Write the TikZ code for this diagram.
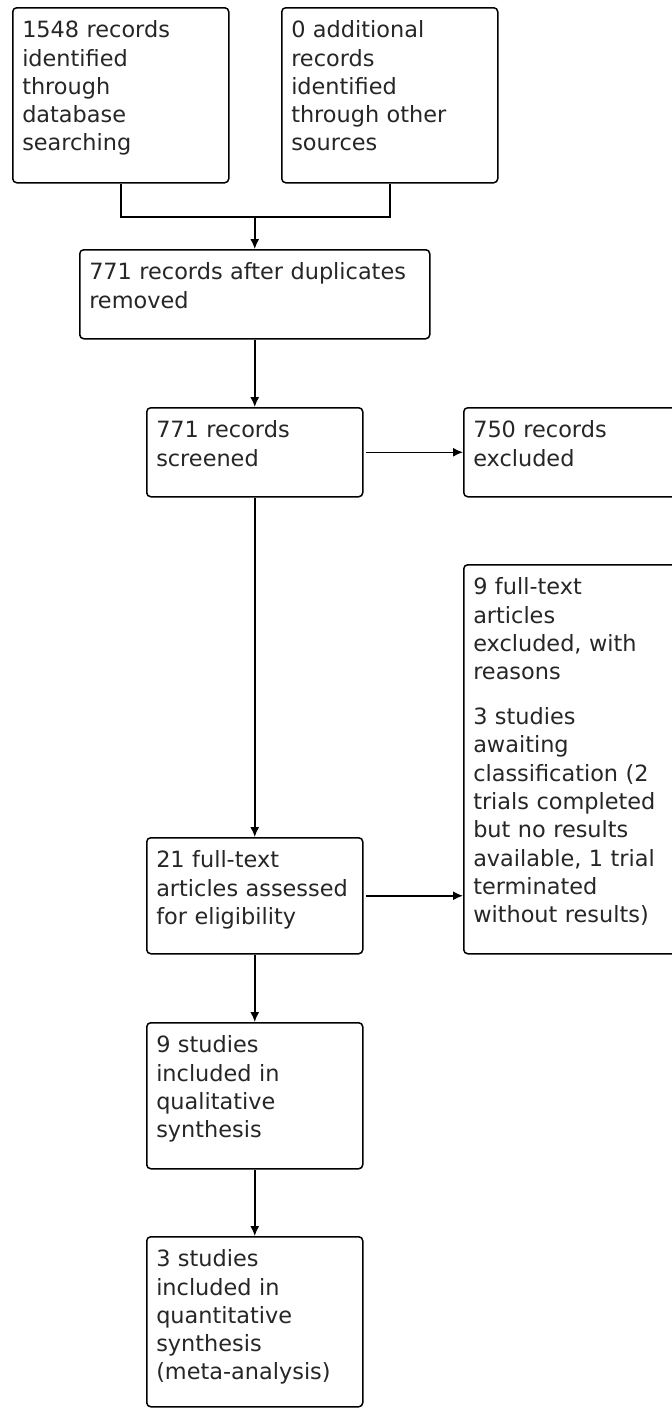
\documentclass[tikz,border=0pt]{standalone}
\usepackage{fontspec}
\setmainfont{DejaVu Sans}
\usetikzlibrary{arrows.meta}

\begin{document}
\begin{tikzpicture}[x=0.5pt, y=-0.5pt,
        recbox/.style={draw, line width=0.75pt, rounded corners=2pt, anchor=north west,
            align=left, inner xsep=4.75pt, inner ysep=0pt, text height=15pt,
            text=black!85, font=\fontsize{11.2}{14.15}\selectfont},
        flow/.style={->, line width=0.75pt, >={Latex[length=5pt, width=4.5pt]}},
        link/.style={line width=0.75pt}]
            \useasboundingbox (0, 0) rectangle (672, 1408);
            \clip (0, 0) rectangle (672, 1408);

            % identification
            \node[recbox, text width=98.5pt, text depth=72.5pt] (search) at (12, 7)
                {1548 records\\identified\\through\\database\\searching};
            \node[recbox, text width=98.5pt, text depth=72.5pt] (other) at (281, 7)
                {0 additional\\records\\identified\\through other\\sources};

            \node[recbox, text width=165.5pt, text depth=29.5pt] (dedup) at (79, 249)
                {771 records after duplicates\\removed};
            \coordinate (merge) at (dedup.north |- 0, 217);
            \draw[link] (search.south) |- (merge) -| (other.south);
            \draw[flow] (merge) -- (dedup.north);

            % screening
            \node[recbox, text width=98.5pt, text depth=29.5pt] (screened) at (146, 407)
                {771 records\\screened};
            \node[recbox, text width=100pt, text depth=29.5pt] (excluded) at (463, 407)
                {750 records\\excluded};
            \draw[flow] (dedup.south) -- (screened.north);
            \draw[flow, shorten <=1pt] (screened.east) -- (excluded.west);

            % eligibility
            \node[recbox, text width=100pt, text depth=179.5pt] (reasons) at (463, 564)
                {9 full-text\\articles\\excluded, with\\reasons\\[8.3pt]
                 3 studies\\awaiting\\classification (2\\trials completed\\but no results\\available, 1 trial\\terminated\\without results)};
            \node[recbox, text width=98.5pt, text depth=43pt] (fulltext) at (146, 837)
                {21 full-text\\articles assessed\\for eligibility};
            \draw[flow] (screened.south) -- (fulltext.north);
            \draw[flow, shorten <=1pt] (fulltext.east) -- (fulltext.east -| reasons.west);

            % included
            \node[recbox, text width=98.5pt, text depth=58pt] (quali) at (146, 1022)
                {9 studies\\included in\\qualitative\\synthesis};
            \node[recbox, text width=98.5pt, text depth=70pt] (quanti) at (146, 1236)
                {3 studies\\included in\\quantitative\\synthesis\\(meta-analysis)};
            \draw[flow] (fulltext.south) -- (quali.north);
            \draw[flow] (quali.south) -- (quanti.north);
        \end{tikzpicture}
\end{document}
